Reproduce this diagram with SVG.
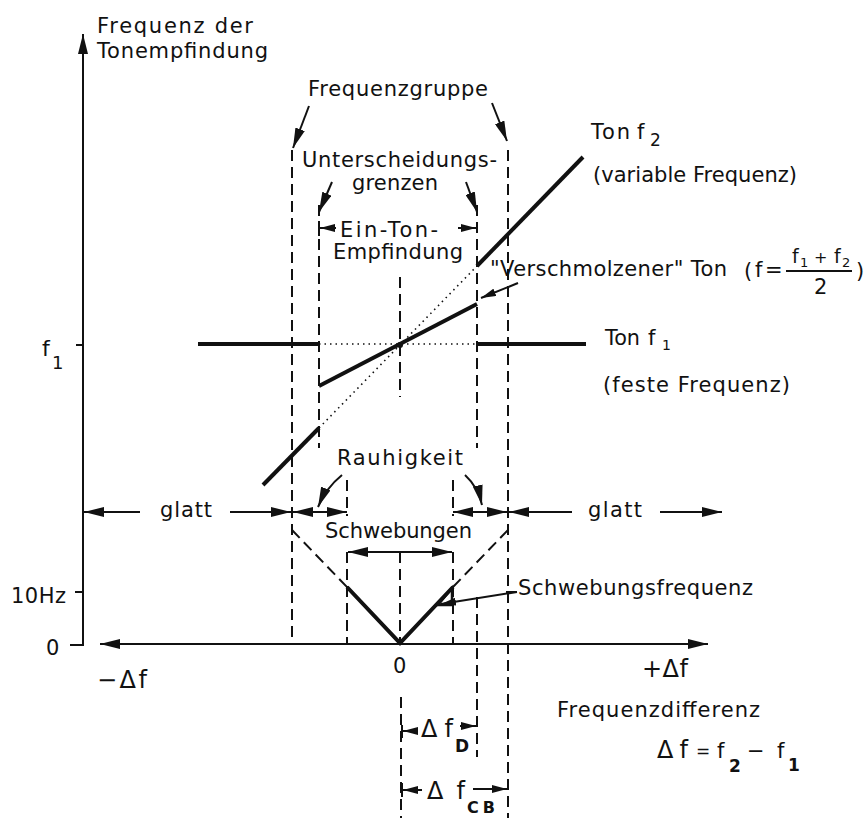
<svg xmlns="http://www.w3.org/2000/svg" width="867" height="818" viewBox="0 0 867 818">
<style>
 .t{font-family:"DejaVu Sans","Liberation Sans",sans-serif;font-size:21px;fill:#111}
 .ax{stroke:#111;stroke-width:2;fill:none}
 .d{stroke:#111;stroke-width:2;fill:none;stroke-dasharray:11 6}
 .dot{stroke:#111;stroke-width:1.6;fill:none;stroke-dasharray:1.5 4}
 .th{stroke:#111;stroke-width:4;fill:none}
 .ln{stroke:#111;stroke-width:2;fill:none}
 .a{marker-end:url(#ah)}
 .as{marker-end:url(#sm)}
 .aa{marker-start:url(#ah);marker-end:url(#ah)}
 .sb{font-size:17px;font-weight:bold}
 .dl{font-size:24px}
</style>
<defs>
 <marker id="ah" markerUnits="userSpaceOnUse" markerWidth="20" markerHeight="10" refX="20" refY="5" orient="auto-start-reverse" viewBox="0 0 20 10"><path d="M0,0 L20,5 L0,10 z" fill="#111"/></marker>
 <marker id="sm" markerUnits="userSpaceOnUse" markerWidth="15" markerHeight="8" refX="15" refY="4" orient="auto-start-reverse" viewBox="0 0 15 8"><path d="M0,0 L15,4 L0,8 z" fill="#111"/></marker>
</defs>
<rect width="867" height="818" fill="#fff"/>

<g id="axes">
 <line class="ax" x1="83" y1="646" x2="83" y2="34" style="marker-end:url(#ah)"/>
 <line class="ax" x1="76" y1="345" x2="83" y2="345"/>
 <line class="ax" x1="75" y1="592" x2="83" y2="592"/>
 <line class="ax" x1="70" y1="645" x2="83" y2="645"/>
 <line class="ax aa" x1="100" y1="644" x2="708" y2="644"/>
</g>

<g id="guides">
 <line class="d" x1="292" y1="150" x2="292" y2="644"/>
 <line class="d" x1="319" y1="205" x2="319" y2="448"/>
 <line class="d" x1="477" y1="205" x2="477" y2="448"/>
 <line class="d" x1="477" y1="597" x2="477" y2="757"/>
 <line class="d" x1="508" y1="150" x2="508" y2="818"/>
 <line class="d" x1="400" y1="277" x2="400" y2="397"/>
 <line class="d" x1="400" y1="552" x2="400" y2="644"/>
 <line class="d" x1="401" y1="697" x2="401" y2="818"/>
 <line class="d" x1="347" y1="480" x2="347" y2="516"/>
 <line class="d" x1="347" y1="552" x2="347" y2="644"/>
 <line class="d" x1="453" y1="480" x2="453" y2="516"/>
 <line class="d" x1="453" y1="552" x2="453" y2="644"/>
 <line class="d" x1="292" y1="530" x2="347" y2="587"/>
 <line class="d" x1="453" y1="587" x2="508" y2="530"/>
</g>

<g id="ton-f1">
 <line class="th" x1="198" y1="344" x2="319" y2="344"/>
 <line class="dot" x1="319" y1="344" x2="477" y2="344"/>
 <line class="th" x1="477" y1="344" x2="586" y2="344"/>
</g>

<g id="ton-f2">
 <line class="th" x1="263" y1="485" x2="319" y2="428"/>
 <line class="dot" x1="319" y1="428" x2="477" y2="266"/>
 <line class="th" x1="477" y1="266" x2="583" y2="157"/>
</g>

<g id="verschmolzen">
 <line class="th" x1="319" y1="386" x2="477" y2="304"/>
 <circle cx="400" cy="345" r="3" fill="#111"/>
</g>

<g id="schwebung">
 <path class="th" d="M347,587 L400,643 L453,587"/>
 <polygon points="452,588 452,605 438,605" fill="none" stroke="#111" stroke-width="2.5"/>
</g>

<g id="connectors">
 <line class="ln a" x1="309" y1="106" x2="293" y2="148"/>
 <line class="ln a" x1="492" y1="103" x2="507" y2="141"/>
 <line class="ln a" x1="332" y1="182" x2="319" y2="212"/>
 <line class="ln a" x1="466" y1="182" x2="477" y2="212"/>
 <line class="ln" x1="319" y1="221" x2="319" y2="236"/>
 <line class="ln as" x1="336" y1="228" x2="320" y2="228"/>
 <line class="ln as" x1="458" y1="228" x2="476" y2="228"/>
 <line class="ln as" x1="518" y1="283" x2="481" y2="298"/>
 <path class="ln a" d="M342,475 Q326,488 318,507" stroke-width="3"/>
 <path class="ln a" d="M465,475 Q478,487 482,505" stroke-width="3"/>
 <line class="ln a" x1="140" y1="512" x2="84" y2="512"/>
 <line class="ln a" x1="230" y1="512" x2="291" y2="512"/>
 <line class="ln aa" x1="293" y1="512" x2="347" y2="512"/>
 <line class="ln aa" x1="453" y1="512" x2="507" y2="512"/>
 <line class="ln a" x1="572" y1="512" x2="509" y2="512"/>
 <line class="ln a" x1="660" y1="512" x2="722" y2="512"/>
 <line class="ln aa" x1="348" y1="552" x2="452" y2="552"/>
 <line class="ln" x1="506" y1="592" x2="517" y2="592"/>
 <line class="ln as" x1="517" y1="592" x2="441" y2="604"/>
 <line class="ln" x1="402" y1="725" x2="402" y2="738"/>
 <line class="ln as" x1="418" y1="731" x2="403" y2="731"/>
 <line class="ln as" x1="460" y1="726" x2="476" y2="726"/>
 <line class="ln" x1="402" y1="783" x2="402" y2="797"/>
 <line class="ln as" x1="422" y1="790" x2="403" y2="790"/>
 <line class="ln as" x1="473" y1="789" x2="507" y2="789"/>
</g>

<g id="labels">
 <text class="t" x="97" y="33" textLength="156" lengthAdjust="spacing">Frequenz der</text>
 <text class="t" x="97" y="58" textLength="171" lengthAdjust="spacing">Tonempfindung</text>
 <text class="t" x="308" y="96" textLength="180" lengthAdjust="spacing">Frequenzgruppe</text>
 <text class="t" x="302" y="167" textLength="195" lengthAdjust="spacing">Unterscheidungs-</text>
 <text class="t" x="352" y="190" textLength="86" lengthAdjust="spacing">grenzen</text>
 <text class="t" x="340" y="237" textLength="98" lengthAdjust="spacing">Ein-Ton-</text>
 <text class="t" x="333" y="259" textLength="130" lengthAdjust="spacing">Empfindung</text>

 <text class="t" x="591" y="139" textLength="39" lengthAdjust="spacing">Ton</text>
 <text class="t" x="637" y="139">f</text>
 <text class="t" x="650" y="146" style="font-size:17px">2</text>
 <text class="t" x="593" y="182" textLength="204" lengthAdjust="spacing">(variable Frequenz)</text>

 <text class="t" x="490" y="276" textLength="237" lengthAdjust="spacing">"Verschmolzener" Ton</text>
 <text class="t" x="744" y="278">(</text>
 <text class="t" x="755" y="277">f</text>
 <text class="t" x="765" y="277">=</text>
 <line class="ln" x1="786" y1="271" x2="852" y2="271"/>
 <text class="t" x="792" y="263" style="font-size:19px">f</text>
 <text class="t" x="800" y="267" style="font-size:13px">1</text>
 <text class="t" x="814" y="263" style="font-size:16px">+</text>
 <text class="t" x="834" y="263" style="font-size:19px">f</text>
 <text class="t" x="842" y="267" style="font-size:13px">2</text>
 <text class="t" x="814" y="294">2</text>
 <text class="t" x="856" y="278">)</text>

 <text class="t" x="605" y="345" textLength="35" lengthAdjust="spacingAndGlyphs">Ton</text>
 <text class="t" x="648" y="345">f</text>
 <text class="t" x="662" y="350" style="font-size:14px">1</text>
 <text class="t" x="603" y="392" textLength="187" lengthAdjust="spacing">(feste Frequenz)</text>

 <text class="t" x="42" y="356" style="font-size:22px">f</text>
 <text class="t" x="52" y="369" style="font-size:18px">1</text>

 <text class="t" x="337" y="465" textLength="126" lengthAdjust="spacing">Rauhigkeit</text>
 <text class="t" x="160" y="517" textLength="52" lengthAdjust="spacing">glatt</text>
 <text class="t" x="588" y="517" textLength="54" lengthAdjust="spacing">glatt</text>
 <text class="t" x="325" y="538" textLength="147" lengthAdjust="spacing">Schwebungen</text>
 <text class="t" x="518" y="595" textLength="235" lengthAdjust="spacing">Schwebungsfrequenz</text>

 <text class="t" x="11" y="603" textLength="55" lengthAdjust="spacing">10Hz</text>
 <text class="t" x="46" y="655">0</text>
 <text class="t dl" x="97" y="688" textLength="50" lengthAdjust="spacing">−Δf</text>
 <text class="t" x="393" y="673">0</text>
 <text class="t dl" x="642" y="677" textLength="46" lengthAdjust="spacing">+Δf</text>
 <text class="t" x="557" y="717" textLength="203" lengthAdjust="spacing">Frequenzdifferenz</text>

 <text class="t dl" x="657" y="758" textLength="31" lengthAdjust="spacing">Δf</text>
 <text class="t" x="696" y="757" style="font-size:17px">=</text>
 <text class="t" x="717" y="758">f</text>
 <text class="t sb" x="729" y="772">2</text>
 <text class="t" x="747" y="758">−</text>
 <text class="t" x="777" y="758">f</text>
 <text class="t sb" x="788" y="771">1</text>

 <text class="t dl" x="421" y="737" textLength="32" lengthAdjust="spacing">Δf</text>
 <text class="t sb" x="455" y="752">D</text>
 <text class="t dl" x="427" y="799" textLength="38" lengthAdjust="spacing">Δf</text>
 <text class="t sb" x="467" y="813" textLength="28" lengthAdjust="spacing" style="font-size:16px">CB</text>
</g>
</svg>
